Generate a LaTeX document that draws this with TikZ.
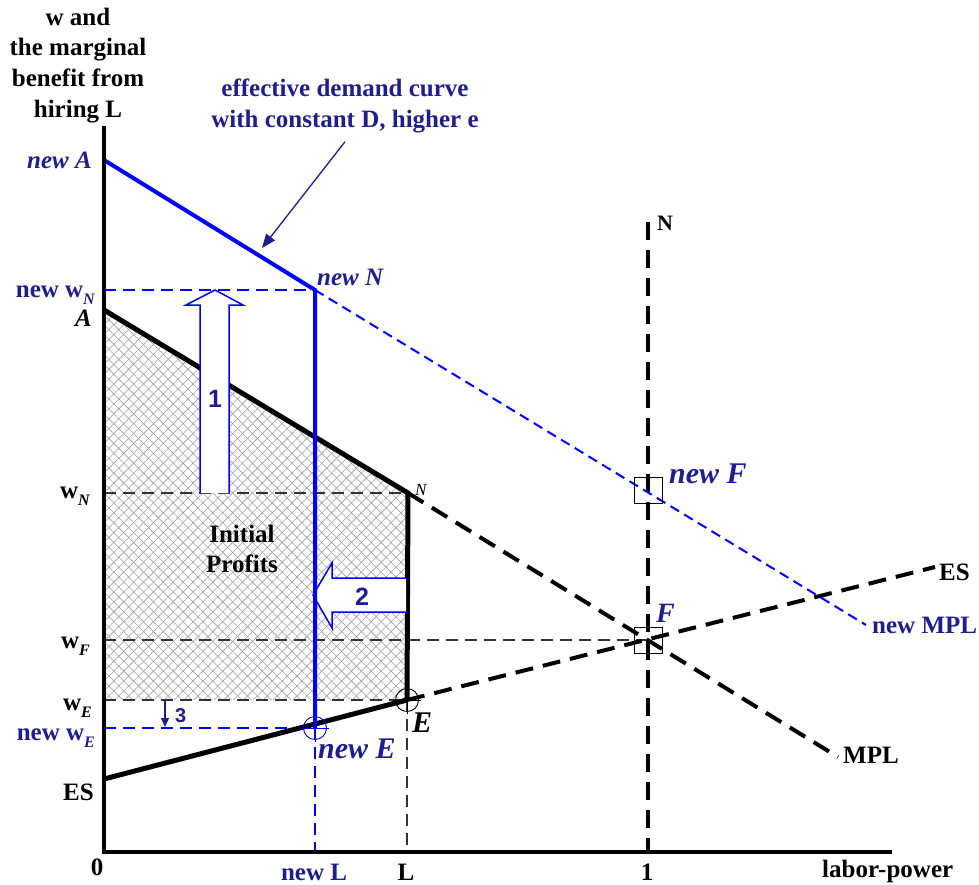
\documentclass[tikz,border=0pt]{standalone}
\usepackage{fontspec}
\setmainfont{Liberation Serif}
\newfontfamily\sansf{Liberation Sans}
\usetikzlibrary{patterns.meta,arrows.meta}
\definecolor{navy}{RGB}{30,30,140}
\definecolor{bblue}{RGB}{0,0,255}
\newcommand\mysub[1]{\raisebox{-0.3em}{\fontsize{16}{16}\selectfont\bfseries\itshape #1}}
\begin{document}
\begin{tikzpicture}[x=1pt,y=-1pt,
  every node/.style={font=\fontsize{25}{30}\selectfont\bfseries, inner sep=0pt},
  lbl/.style={anchor=base east},
  itl/.style={font=\fontsize{25}{30}\selectfont\bfseries\itshape},
  curveblack/.style={line width=5pt, line join=miter},
  dashblack/.style={line width=4pt, dash pattern=on 18pt off 10pt},
  thindash/.style={line width=1.2pt, black!80, dash pattern=on 12pt off 7pt},
  bluesolid/.style={line width=4pt, bblue, line join=miter},
  bluedash/.style={line width=2pt, bblue, dash pattern=on 10pt off 6pt},
  bluethindash/.style={line width=1.3pt, bblue, dash pattern=on 12pt off 7pt},
  blockline/.style={draw=bblue, line width=1.5pt},
  marksq/.style={draw, line width=0.9pt, minimum width=28pt, minimum height=26pt},
  markcirc/.style={circle, draw, line width=0.9pt, minimum size=23pt}
]
\useasboundingbox (0,0) rectangle (979,884);

% key points
\coordinate (O) at (104,852);
\coordinate (Ytop) at (104,126);
\coordinate (Xend) at (892,852);
\coordinate (A) at (104,310);
\coordinate (N) at (408,493);
\coordinate (E) at (407,700);
\coordinate (ES0) at (104,779);
\coordinate (F) at (648,640);
\coordinate (nA) at (104,160);
\coordinate (nN) at (315,290);
\coordinate (nE) at (315,728);
\coordinate (nF) at (648,490);
\coordinate (Ntop) at (648,222);
\coordinate (Nbot) at (648,852);
\coordinate (MPLend) at (838,757);
\coordinate (ESend) at (935,567);
\coordinate (nMPLend) at (866,625);
\coordinate (wN) at (104,493);
\coordinate (wF) at (104,640);
\coordinate (wE) at (104,700);
\coordinate (nwE) at (104,728);
\coordinate (nwN) at (104,290);
\coordinate (Lbot) at (407,852);
\coordinate (nLbot) at (315,852);

% hatched profits area
\fill[white] (A) -- (N) -- (E) -- (wE) -- cycle;
\fill[pattern={Lines[angle=45,distance=7pt,line width=0.6pt]}, pattern color=gray!75] (A) -- (N) -- (E) -- (wE) -- cycle;
\fill[pattern={Lines[angle=-45,distance=7pt,line width=0.6pt]}, pattern color=gray!75] (A) -- (N) -- (E) -- (wE) -- cycle;

% thin dashed guides
\draw[thindash] (wN) -- (N);
\draw[thindash] (wF) -- (F);
\draw[thindash] (wE) -- (E);
\draw[thindash] (E) -- (Lbot);
\draw[bluethindash] (nwN) -- (nN);
\draw[bluethindash] (nwE) -- (nE);
\draw[bluethindash] (nE) -- (nLbot);

% thick dashed curves
\draw[dashblack] (N) -- (MPLend);
\draw[dashblack] (E) -- (ESend);
\draw[dashblack] (Ntop) -- (Nbot);
\draw[bluedash] (nN) -- (nMPLend);

% solid curves
\draw[curveblack] (A) -- (N) -- (E);
\draw[curveblack] (ES0) -- (E);

% block arrow 1
\fill[white] (200,493) -- (200,305) -- (186,305) -- (215,290) -- (243,305) -- (229,305) -- (229,493) -- cycle;
\draw[blockline] (200,493) -- (200,305) -- (186,305) -- (215,290) -- (243,305) -- (229,305) -- (229,493);
% block arrow 2
\fill[white] (406,578) -- (332,578) -- (332,563) -- (313,595) -- (332,628) -- (332,612) -- (406,612) -- cycle;
\draw[blockline] (406,578) -- (332,578) -- (332,563) -- (313,595) -- (332,628) -- (332,612) -- (406,612);

% new effective demand curve
\draw[bluesolid] (nA) -- (nN) -- (nE);

% axes
\draw[line width=4pt] (Ytop) -- (O) -- (Xend);

% arrow 3
\coordinate (a3s) at (165,700);
\coordinate (a3e) at (165,727);
\draw[navy, line width=1.2pt, -{Triangle[length=9pt,width=8pt]}] (a3s) -- (a3e);

% markers
\node[markcirc] (Ecirc) at (E) {};
\draw[line width=0.9pt] ([xshift=-2pt]Ecirc.west) -- ([xshift=2pt]Ecirc.east);
\draw[line width=0.9pt] ([yshift=2pt]Ecirc.north) -- ([yshift=-2pt]Ecirc.south);
\node[markcirc, draw=bblue] (nEcirc) at (nE) {};
\draw[line width=0.9pt, bblue] ([xshift=-2pt]nEcirc.west) -- ([xshift=2pt]nEcirc.east);
\draw[line width=0.9pt, bblue] ([yshift=2pt]nEcirc.north) -- ([yshift=-2pt]nEcirc.south);
\node[marksq] (Fsq) at (F) {};
\node[marksq] (nFsq) at (nF) {};

% annotation
\node[navy, anchor=base] (eff1) at (345,96) {effective demand curve};
\node[navy, anchor=base] (eff2) at (345,127) {with constant D, higher e};
\coordinate (effTip) at (262,248);
\draw[navy, line width=1.3pt, -{Triangle[length=14pt,width=11pt]}] ([yshift=-9pt]eff2.south) -- (effTip);

% y-axis title
\node[anchor=base] (yl1) at (78,25) {w and};
\node[anchor=base] (yl2) at (78,55) {the marginal};
\node[anchor=base] (yl3) at (78,86) {benefit from};
\node[anchor=base] (yl4) at (78,117) {hiring L};

% left labels
\node[lbl, itl, navy] (lnA) at (92,168) {new A};
\node[lbl, navy] (lnwN) at (95,297) {new w\mysub{N}};
\node[lbl, itl] (lA) at (92,326) {A};
\node[lbl] (lwN) at (90,498) {w\mysub{N}};
\node[lbl] (lwF) at (90,648) {w\mysub{F}};
\node[lbl] (lwE) at (92,710) {w\mysub{E}};
\node[lbl, navy] (lnwE) at (95,740) {new w\mysub{E}};
\node[lbl] (lES) at (94,800) {ES};

% bottom labels
\node[anchor=base] (l0) at (97,875) {0};
\node[anchor=base, navy] (lnL) at (314,880) {new L};
\node[anchor=base] (lL) at (406,880) {L};
\node[anchor=base] (l1) at (647,880) {1};
\node[anchor=base west] (llp) at (822,877) {labor-power};

% point labels
\node[anchor=base west, itl, navy] (lnN) at (317,285) {new N};
\node[anchor=base west, font=\fontsize{17}{17}\selectfont\itshape] (lN) at (415,495) {N};
\node[anchor=base west, font=\fontsize{22}{22}\selectfont\bfseries] (lNtop) at (657,230) {N};
\node[anchor=base west, font=\fontsize{30}{30}\selectfont\bfseries\itshape, navy] (lnF) at (669,483) {new F};
\node[anchor=base west, font=\fontsize{28}{28}\selectfont\bfseries\itshape, navy] (lF) at (656,622) {F};
\node[anchor=base west, font=\fontsize{30}{30}\selectfont\bfseries\itshape, navy] (lnE) at (318,758) {new E};
\node[anchor=base west, font=\fontsize{30}{30}\selectfont\bfseries\itshape] (lE) at (412,732) {E};
\node[anchor=base west] (lESr) at (939,580) {ES};
\node[anchor=base west, navy] (lnMPL) at (872,633) {new MPL};
\node[anchor=base west] (lMPL) at (843,763) {MPL};

% profits label
\node[anchor=base] (lInit) at (242,542) {Initial};
\node[anchor=base] (lProf) at (242,572) {Profits};

% step numbers
\node[anchor=base, navy, font=\fontsize{25}{25}\sansf\bfseries] (n1) at (215,407) {1};
\node[anchor=base, navy, font=\fontsize{25}{25}\sansf\bfseries] (n2) at (362,605) {2};
\node[anchor=base west, navy, font=\fontsize{20}{20}\sansf\bfseries] (n3) at (175,722) {3};
\end{tikzpicture}
\end{document}
